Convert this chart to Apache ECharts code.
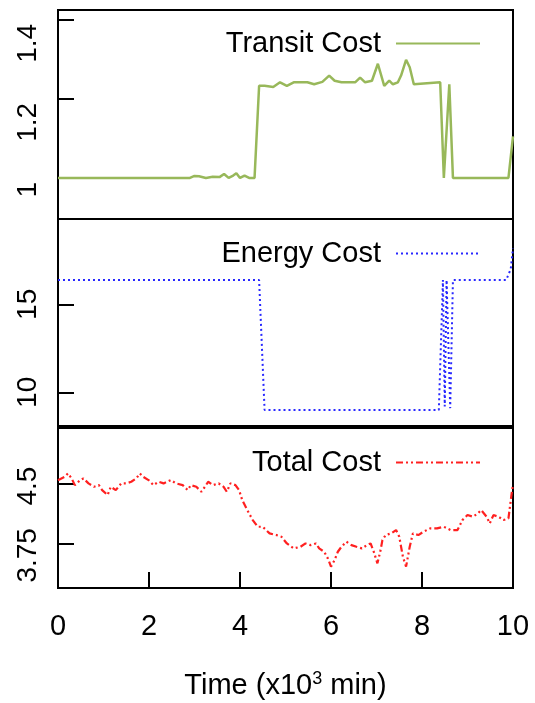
<!DOCTYPE html>
<html><head><meta charset="utf-8">
<script src="https://cdn.jsdelivr.net/npm/echarts@6/dist/echarts.min.js"></script>
<style>html,body{margin:0;padding:0;background:#fff}#c{width:535px;height:703px}</style>
</head><body><div id="c"></div>
<script>
// ---- data ----
const xTickValues = [0, 2, 4, 6, 8, 10];
const transitTicks = [1, 1.2, 1.4];
const energyTicks = [10, 15];
const totalTicks = [3.75, 4.5];

const transitTime  = [0, 2.9, 3.0, 3.1, 3.25, 3.4, 3.55, 3.65, 3.75, 3.85, 3.92, 4.0, 4.1, 4.2, 4.32, 4.42, 4.54, 4.73, 4.88, 5.03, 5.18, 5.48, 5.63, 5.81, 5.96, 6.08, 6.23, 6.53, 6.64, 6.75, 6.9, 7.03, 7.17, 7.28, 7.36, 7.47, 7.54, 7.65, 7.73, 7.82, 8.4, 8.48, 8.6, 8.68, 9.9, 10.0];
const transitValue = [1.0, 1.0, 1.005, 1.004, 1.0, 1.003, 1.002, 1.01, 1.0, 1.006, 1.012, 1.0, 1.006, 1.0, 1.0, 1.233, 1.233, 1.23, 1.242, 1.233, 1.242, 1.242, 1.237, 1.243, 1.259, 1.246, 1.242, 1.242, 1.254, 1.242, 1.246, 1.289, 1.233, 1.246, 1.237, 1.242, 1.259, 1.299, 1.28, 1.237, 1.242, 1.0, 1.237, 1.0, 1.0, 1.105];

const energyTime  = [0, 4.42, 4.54, 8.37, 8.46, 8.5, 8.54, 8.62, 8.68, 9.85, 9.95, 10.0];
const energyValue = [16.38, 16.38, 9.0, 9.0, 16.38, 9.2, 16.38, 9.1, 16.38, 16.38, 17.0, 18.2];

const totalTime  = [0, 0.15, 0.22, 0.30, 0.37, 0.49, 0.56, 0.67, 0.79, 0.90, 0.97, 1.09, 1.16, 1.27, 1.39, 1.50, 1.61, 1.72, 1.80, 1.87, 1.99, 2.10, 2.21, 2.32, 2.48, 2.59, 2.74, 2.85, 2.92, 3.04, 3.15, 3.23, 3.30, 3.41, 3.53, 3.64, 3.71, 3.79, 3.90, 3.98, 4.05, 4.16, 4.28, 4.39, 4.50, 4.65, 4.80, 4.91, 5.03, 5.18, 5.33, 5.44, 5.55, 5.67, 5.74, 5.85, 5.93, 6.00, 6.08, 6.15, 6.23, 6.34, 6.45, 6.56, 6.68, 6.79, 6.87, 6.94, 7.02, 7.09, 7.13, 7.20, 7.32, 7.43, 7.50, 7.58, 7.65, 7.73, 7.80, 7.92, 8.03, 8.18, 8.33, 8.48, 8.63, 8.78, 8.89, 9.00, 9.12, 9.23, 9.30, 9.42, 9.49, 9.57, 9.68, 9.79, 9.90, 9.98, 10.0];
const totalValue = [4.55, 4.593, 4.635, 4.572, 4.487, 4.551, 4.572, 4.509, 4.466, 4.487, 4.424, 4.361, 4.466, 4.424, 4.509, 4.509, 4.53, 4.572, 4.635, 4.593, 4.551, 4.487, 4.53, 4.509, 4.551, 4.509, 4.487, 4.424, 4.487, 4.466, 4.403, 4.466, 4.53, 4.487, 4.509, 4.466, 4.403, 4.509, 4.487, 4.424, 4.297, 4.171, 4.045, 3.96, 3.96, 3.876, 3.855, 3.834, 3.749, 3.686, 3.707, 3.749, 3.728, 3.749, 3.686, 3.644, 3.56, 3.455, 3.539, 3.644, 3.707, 3.77, 3.728, 3.707, 3.686, 3.728, 3.749, 3.644, 3.497, 3.665, 3.791, 3.855, 3.876, 3.918, 3.834, 3.581, 3.455, 3.707, 3.876, 3.855, 3.897, 3.939, 3.939, 3.96, 3.918, 3.918, 4.045, 4.108, 4.087, 4.13, 4.171, 4.087, 4.003, 4.108, 4.087, 4.045, 4.066, 4.424, 4.487];

// ---- chart ----
const FONT = 'Liberation Sans, Arial, Helvetica, sans-serif';
const pairs = (t, v) => t.map((x, i) => [x, v[i]]);
const chart = echarts.init(document.getElementById('c'), null, {renderer: 'canvas'});

const gridBase = {left: 58, right: 22, show: true, borderColor: '#000', borderWidth: 2, backgroundColor: 'transparent'};
function yAxis(idx, min, max, ticks, labelExtra) {
  return {
    type: 'value', gridIndex: idx, min: min, max: max,
    axisLine: {show: false},
    splitLine: {show: false},
    axisTick: {show: true, inside: true, length: 16, customValues: ticks, lineStyle: {color: '#000', width: 2}},
    axisLabel: Object.assign({show: true, customValues: ticks, rotate: 90, margin: 16, color: '#000', fontFamily: FONT, fontSize: 28}, labelExtra || {})
  };
}
function legend(name, top) {
  return {
    data: [name], right: 54, top: top, align: 'right', orient: 'horizontal',
    padding: 0, itemWidth: 84, itemHeight: 12,
    itemStyle: {opacity: 0},
    textStyle: {fontFamily: FONT, fontSize: 29, color: '#000', padding: [0, 10, 0, 0]}
  };
}

chart.setOption({
  animation: false,
  backgroundColor: '#fff',
  grid: [
    Object.assign({top: 10, height: 209}, gridBase),
    Object.assign({top: 219, height: 207}, gridBase),
    Object.assign({top: 428, height: 160}, gridBase)
  ],
  legend: [legend('Transit Cost', 29), legend('Energy Cost', 239), legend('Total Cost', 448)],
  xAxis: [
    {type: 'value', gridIndex: 0, min: 0, max: 10, show: false},
    {type: 'value', gridIndex: 1, min: 0, max: 10, show: false},
    {type: 'value', gridIndex: 2, min: 0, max: 10, interval: 2,
     axisLine: {show: false}, splitLine: {show: false},
     axisTick: {show: true, inside: true, length: 16, lineStyle: {color: '#000', width: 2}},
     axisLabel: {color: '#000', fontFamily: FONT, fontSize: 29, margin: 24, showMinLabel: true, showMaxLabel: true},
     name: '{a|Time (x10}{s|3}{a| min)}', nameLocation: 'middle', nameGap: 82,
     nameTextStyle: {rich: {
       a: {fontFamily: FONT, fontSize: 29, color: '#000', lineHeight: 32},
       s: {fontFamily: FONT, fontSize: 18, color: '#000', verticalAlign: 'top', lineHeight: 32, padding: [0, 0, 12, 0]}
     }}}
  ],
  yAxis: [
    yAxis(0, 0.896, 1.425, transitTicks, {align: 'right', padding: [0, 4, 0, 0]}),
    yAxis(1, 8.085, 19.85, energyTicks),
    yAxis(2, 3.185, 5.21, totalTicks, {
      formatter: function (v) { return v === 3.75 ? '{lo|3.75}' : '{n|' + v + '}'; },
      rich: {
        lo: {fontFamily: FONT, fontSize: 28, color: '#000', padding: [0, 24, 0, 0]},
        n: {fontFamily: FONT, fontSize: 28, color: '#000', padding: [0, 4, 0, 0]}
      }
    })
  ],
  series: [
    {name: 'Transit Cost', type: 'line', xAxisIndex: 0, yAxisIndex: 0, data: pairs(transitTime, transitValue),
     showSymbol: false, symbol: 'none', color: '#98b85a', lineStyle: {color: '#98b85a', width: 2.5}},
    {name: 'Energy Cost', type: 'line', xAxisIndex: 1, yAxisIndex: 1, data: pairs(energyTime, energyValue),
     showSymbol: false, symbol: 'none', color: '#2828ff', lineStyle: {color: '#2828ff', width: 2, type: [2, 3]}},
    {name: 'Total Cost', type: 'line', xAxisIndex: 2, yAxisIndex: 2, data: pairs(totalTime, totalValue),
     showSymbol: false, symbol: 'none', color: '#ff2020', lineStyle: {color: '#ff2020', width: 2.2, type: [7, 3, 2, 3, 2, 3]}}
  ]
});
</script>
</body></html>
